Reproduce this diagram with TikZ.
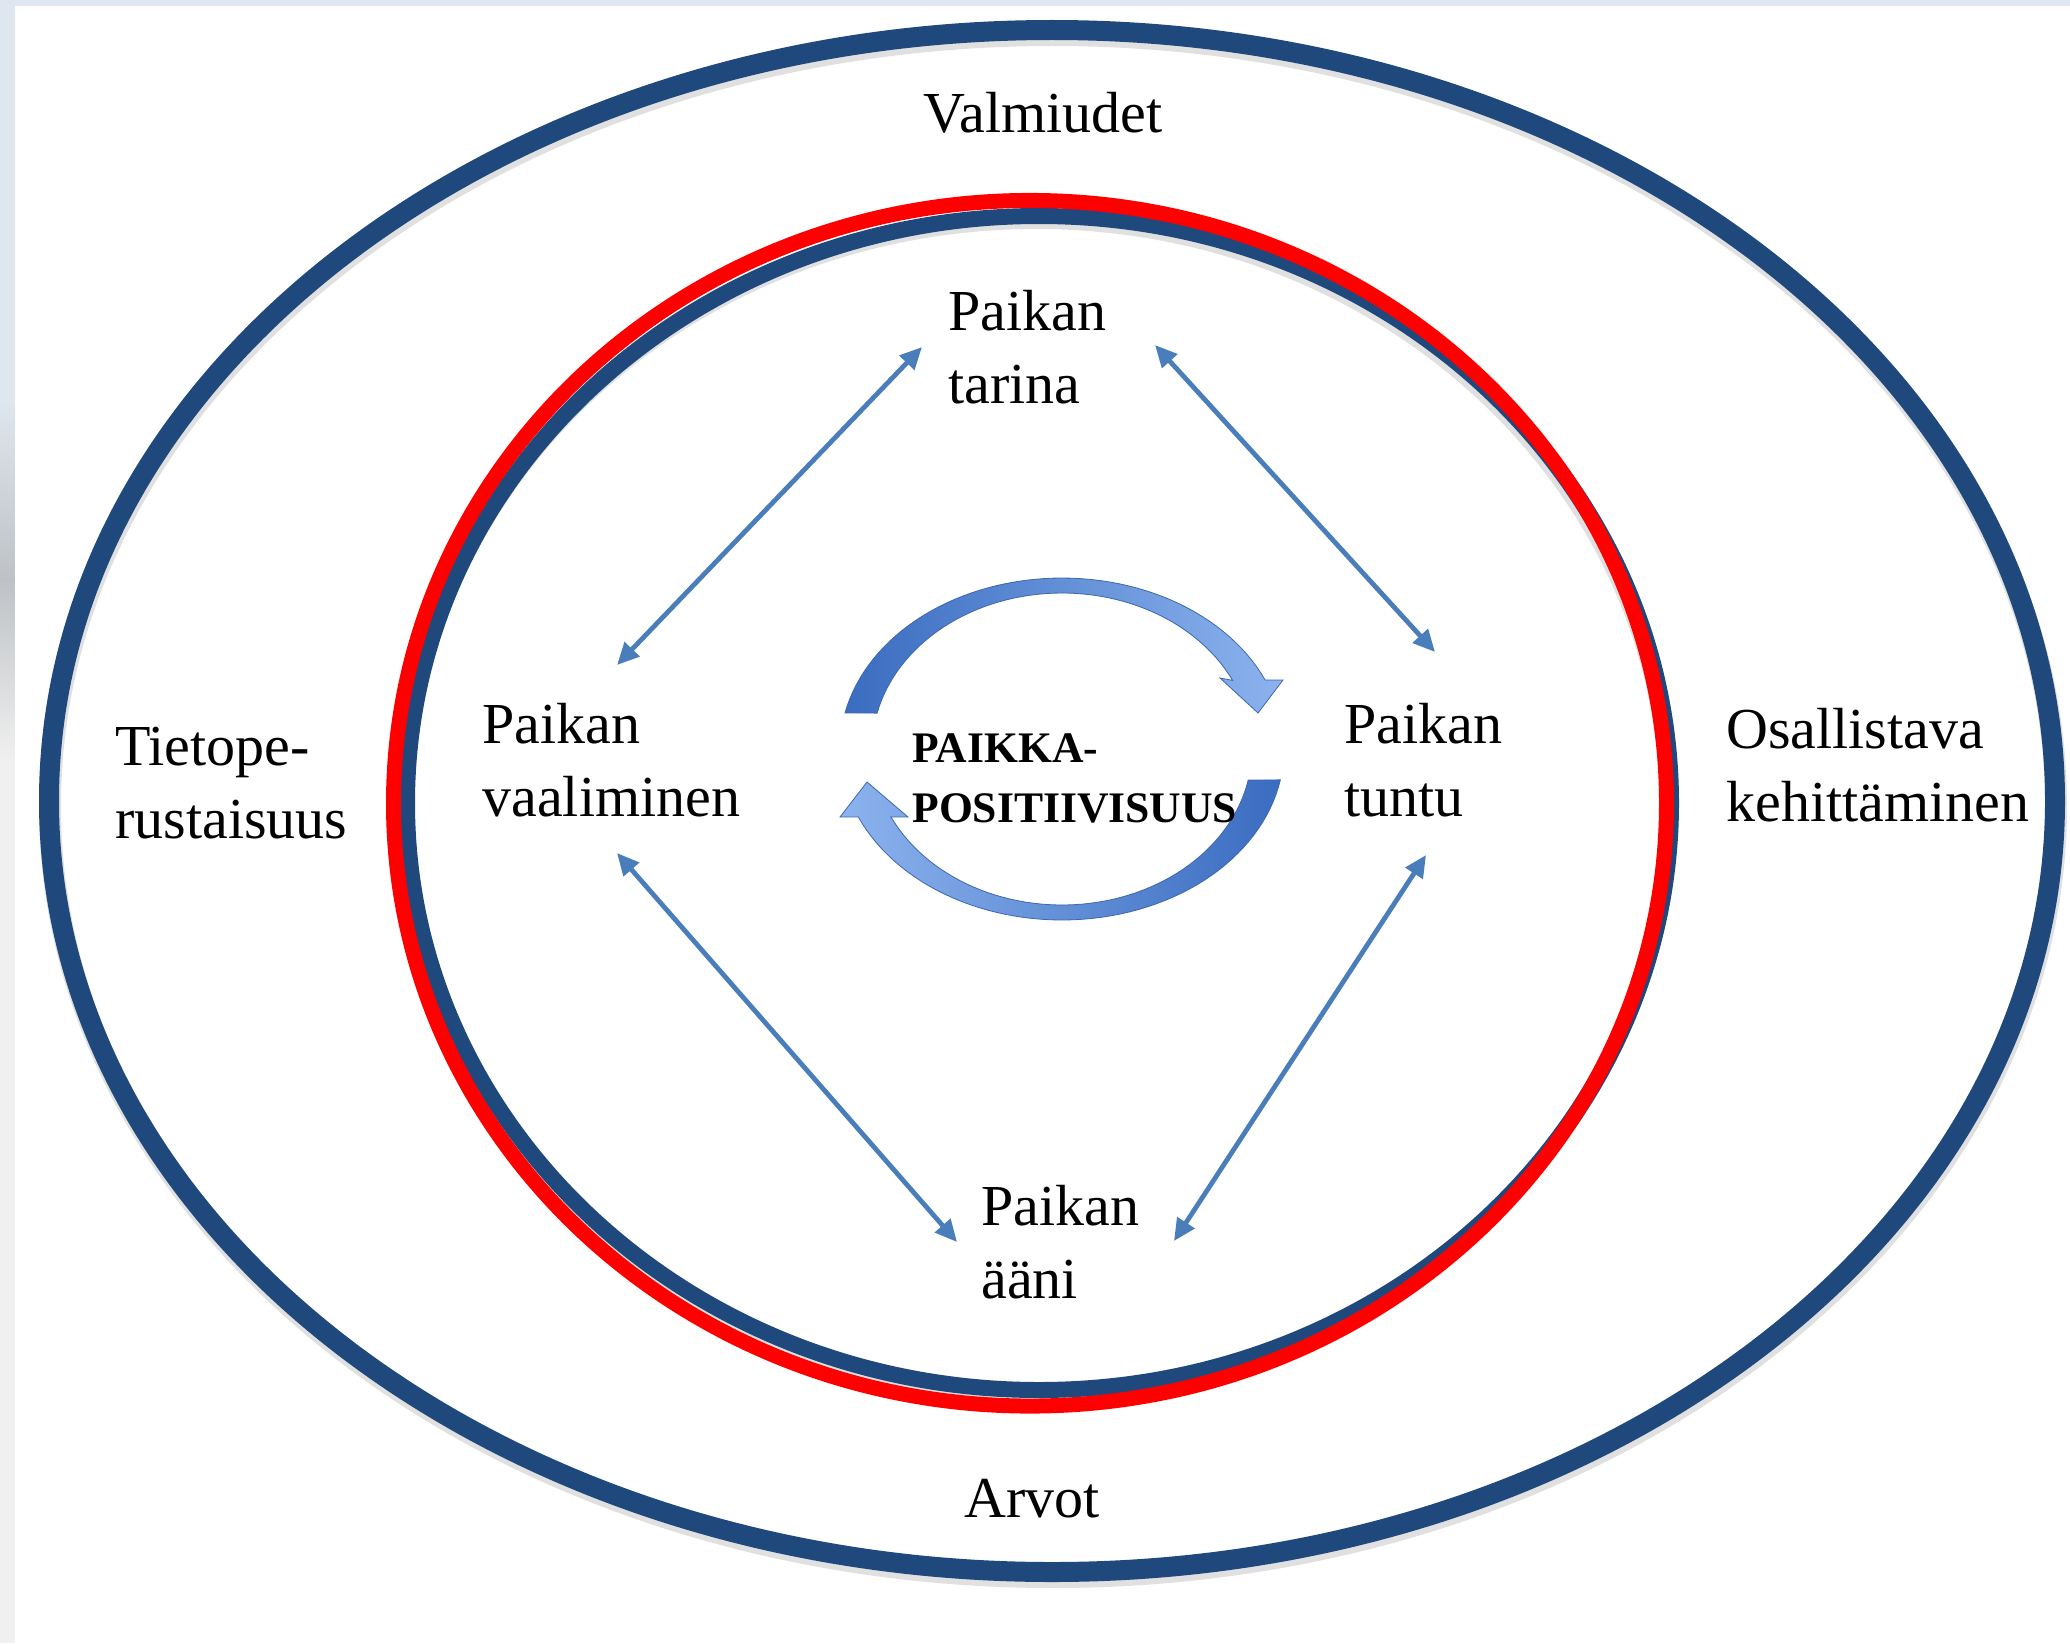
\documentclass[tikz,border=0pt]{standalone}
\usepackage{fontspec}
\setmainfont{Liberation Serif}
\usetikzlibrary{arrows.meta}

\definecolor{ringblue}{HTML}{1F497D}
\definecolor{ringred}{HTML}{FF0000}
\definecolor{linkblue}{HTML}{4A7EBB}
\definecolor{cycdark}{HTML}{3A6CC0}
\definecolor{cyclight}{HTML}{8CB3EE}
\definecolor{cycedge}{HTML}{3C68AE}
\definecolor{bgblue}{HTML}{DEE6EF}
\definecolor{bggray}{HTML}{BEC2C6}

\tikzset{
  lbl/.style={font=\fontsize{29}{36.5}\selectfont, align=left, inner sep=0pt, anchor=base west},
  ctr/.style={font=\fontsize{29}{36.5}\selectfont, inner sep=0pt, anchor=base},
  link/.style={draw=linkblue, line width=2.4pt,
    {Triangle[length=11pt,width=10pt]}-{Triangle[length=11pt,width=10pt]}},
  cyc/.style={draw=cycedge, line width=0.4pt},
  shadowring/.style={draw=black, opacity=0.12}
}

\begin{document}
\begin{tikzpicture}[x=0.5pt,y=-0.5pt]
\useasboundingbox (0,0) rectangle (2070,1643);

% background
\fill[bgblue] (0,0) rectangle (2070,1643);
\shade[top color=bgblue, bottom color=gray!12, middle color=bggray] (0,400) rectangle (15,760);
\fill[gray!12] (0,760) rectangle (15,1643);
\fill[white] (15,6) rectangle (2070,1643);

% ring shadows
\draw[shadowring, line width=11pt] (1053,806) ellipse [x radius=501.5pt, y radius=385.5pt];
\draw[shadowring, line width=8pt] (1036,808) ellipse [x radius=316pt, y radius=293.5pt];

% rings
\draw[ringblue, line width=10pt] (1052,801) ellipse [x radius=501.5pt, y radius=385.5pt];
\draw[ringblue, line width=8pt] (1039,803) ellipse [x radius=316pt, y radius=293.5pt];
\draw[ringred, line width=7.5pt] (1030,803.25) ellipse [x radius=318.25pt, y radius=301.4pt];

% cycle arrows
\path[cyc, left color=cycdark, right color=cyclight]
  plot[domain=192.2:336.2, samples=60, variable=\t] ({1062+222*cos(\t)}, {749+171*sin(\t)})
  -- (1283,680) -- (1258,713) -- (1220,678)
  -- plot[domain=333.9:193.3, samples=60, variable=\t] ({1062+190*cos(\t)}, {749+156*sin(\t)})
  -- cycle;
\path[cyc, left color=cyclight, right color=cycdark]
  plot[domain=10.4:156.6, samples=60, variable=\t] ({1062+222*cos(\t)}, {749+171*sin(\t)})
  -- (840,817) -- (867,782) -- (908,817)
  -- plot[domain=154.2:11.5, samples=60, variable=\t] ({1062+190*cos(\t)}, {749+156*sin(\t)})
  -- cycle;

% labels (anchor: baseline of the last line)
\node[ctr] (valm) at (1043,133) {Valmiudet};
\node[ctr] (arvot) at (1032,1517) {Arvot};
\node[lbl] (tarina) at (948,403) {Paikan\\tarina};
\node[lbl] (vaal) at (482,816) {Paikan\\vaaliminen};
\node[lbl] (tuntu) at (1344,816) {Paikan\\tuntu};
\node[lbl] (aani) at (981,1298) {Paikan\\ääni};
\node[lbl] (tieto) at (115,838) {Tietope-\\rustaisuus};
\node[lbl] (osal) at (1726,821) {Osallistava\\kehittäminen};
\node[lbl, font=\bfseries\fontsize{21.8}{30}\selectfont] (pp) at (912,822) {PAIKKA-\\POSITIIVISUUS};

% link end points
\coordinate (a1s) at (922,347);
\coordinate (a1e) at (617,665);
\coordinate (a2s) at (1155,345);
\coordinate (a2e) at (1435,652);
\coordinate (a3s) at (617,853);
\coordinate (a3e) at (957,1242);
\coordinate (a4s) at (1426,855);
\coordinate (a4e) at (1174,1241);

\draw[link] (a1s) -- (a1e);
\draw[link] (a2s) -- (a2e);
\draw[link] (a3s) -- (a3e);
\draw[link] (a4s) -- (a4e);
\end{tikzpicture}
\end{document}
